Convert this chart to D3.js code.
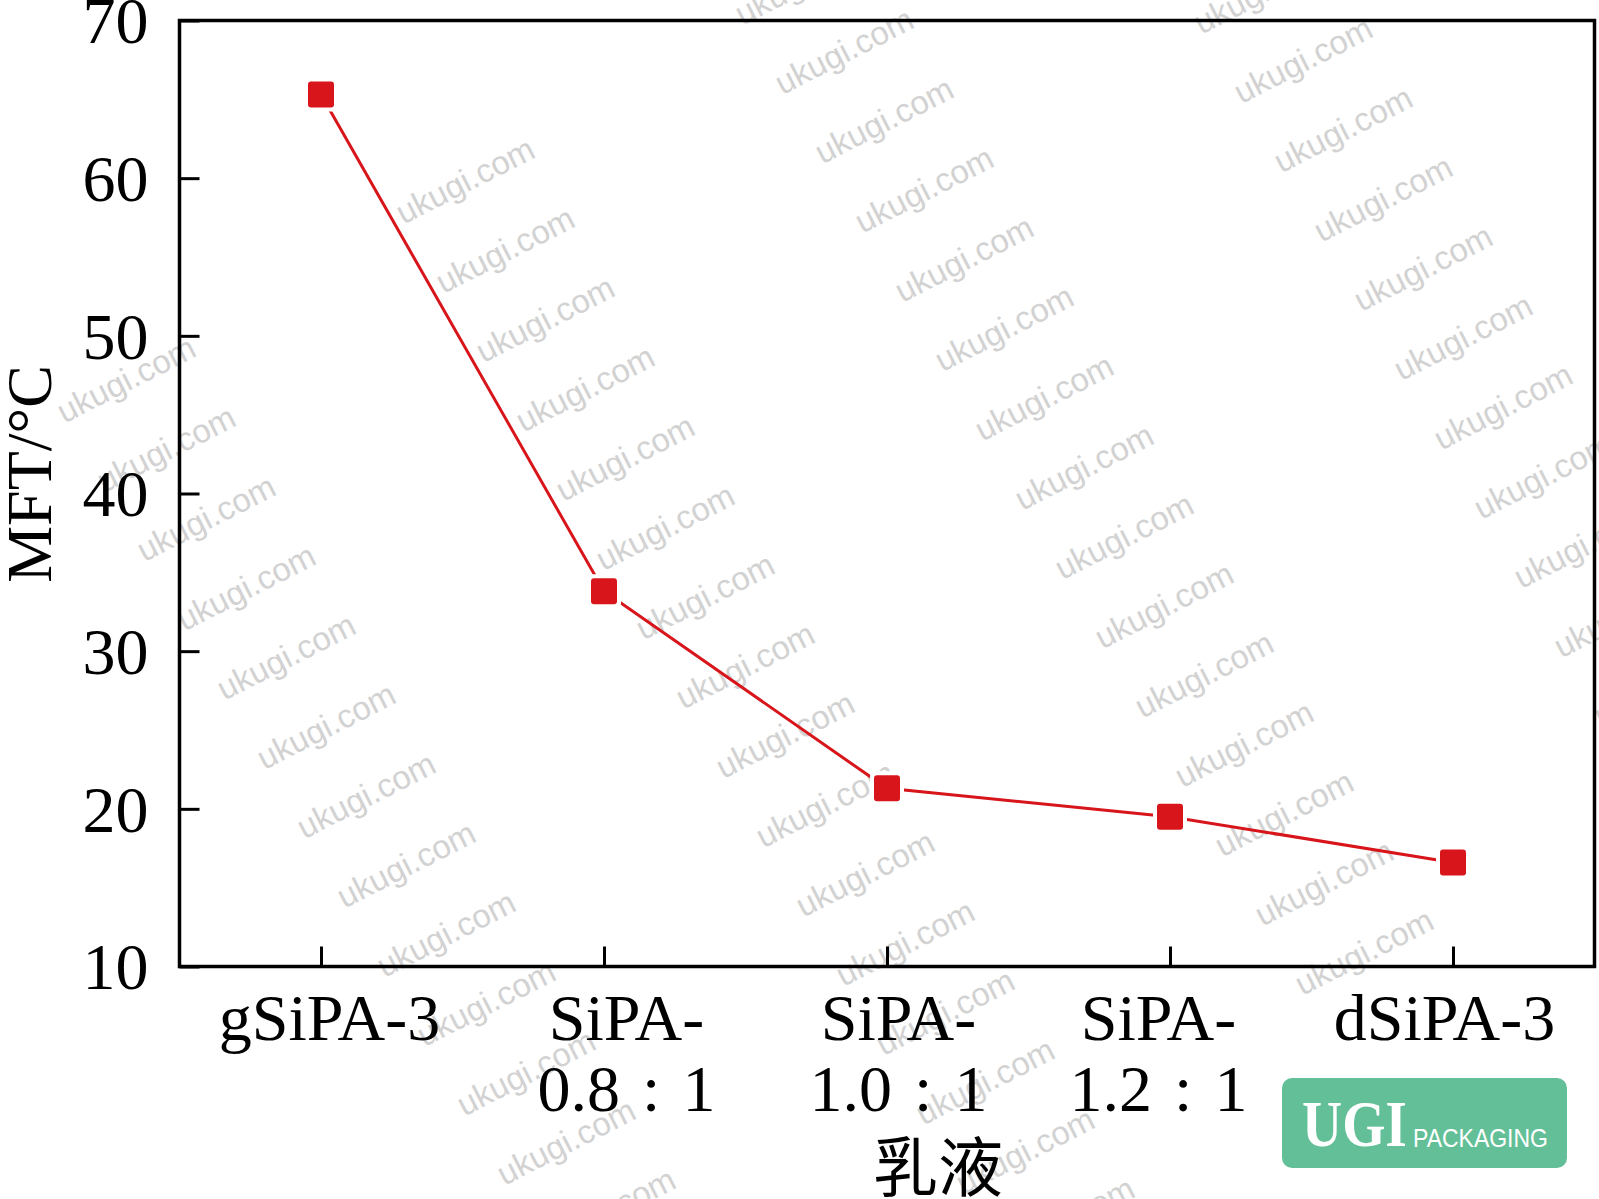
<!DOCTYPE html>
<html>
<head>
<meta charset="utf-8">
<script src="https://cdn.jsdelivr.net/npm/d3@7"></script>
<style>
body { margin: 0; background: #fff; }
</style>
</head>
<body>
<div id="chart"></div>
<script>
// data
var categories = ["gSiPA-3", "SiPA-0.8:1", "SiPA-1.0:1", "SiPA-1.2:1", "dSiPA-3"];
var tickLines = [["gSiPA-3"], ["SiPA-", "0.8\u2004:\u20041"], ["SiPA-", "1.0\u2004:\u20041"], ["SiPA-", "1.2\u2004:\u20041"], ["dSiPA-3"]];
var mft = [65.3, 33.8, 21.3, 19.5, 16.6];
var yTicks = [10, 20, 30, 40, 50, 60, 70];

var data = [];
categories.forEach(function (c, i) {
    data.push({ cat: c, value: mft[i] });
});

var margin = { top: 20.5, right: 4.5, bottom: 232.5, left: 179.5 };
var width = 1599 - margin.left - margin.right;
var height = 1199 - margin.top - margin.bottom;
var red = "#d7151b";
var serif = "'Liberation Serif', 'Times New Roman', serif";
// small horizontal nudges of the tick labels, as in the original figure
var labelDx = [8, 22, 11, -12, -9];

var svg = d3.select("#chart").append("svg")
    .attr("width", 1599)
    .attr("height", 1199);

// watermark text in the background
var wm = svg.append("g");
for (var c = -2; c <= 2; c++) {
    for (var r = -3; r <= 18; r++) {
        var wx = 884 + c * 459 + r * 40;
        var wy = 120 + r * 69.3 + c * 9;
        if (wx < -80 || wx > 1680 || wy < -40 || wy > 1240) continue;
        if (wx < 440 && wy < 340) continue;
        if (wx > 1150 && wy > 990) continue;
        wm.append("text")
            .attr("transform", "translate(" + wx + "," + wy + ") rotate(-27)")
            .attr("text-anchor", "middle")
            .attr("dy", "0.35em")
            .style("font-family", "'Liberation Sans', Arial, sans-serif")
            .style("font-size", "33px")
            .attr("fill", "#d2d2d2")
            .text("ukugi.com");
    }
}

var g = svg.append("g")
    .attr("transform", "translate(" + margin.left + "," + margin.top + ")");

var x = d3.scalePoint()
    .domain(categories)
    .range([0, width])
    .padding(0.5);
var y = d3.scaleLinear()
    .domain([10, 70])
    .range([height, 0]);

// y axis, ticks pointing inward
var yAxis = g.append("g")
    .call(d3.axisLeft(y).tickValues(yTicks).tickSize(-20).tickPadding(31));
yAxis.select(".domain").remove();
yAxis.selectAll("line").attr("stroke-width", 3);
yAxis.selectAll("text")
    .style("font-family", serif)
    .style("font-size", "66px")
    .attr("fill", "#000")
    .attr("dy", "0.34em");

// x axis with two-line labels
var xAxis = g.append("g")
    .attr("transform", "translate(0," + height + ")")
    .call(d3.axisBottom(x).tickSize(-20));
xAxis.select(".domain").remove();
xAxis.selectAll("line").attr("stroke-width", 3);
xAxis.selectAll("text")
    .style("font-family", serif)
    .style("font-size", "66px")
    .attr("fill", "#000")
    .attr("dy", null)
    .attr("y", null)
    .each(function (d, i) {
        var t = d3.select(this);
        t.text(null);
        tickLines[i].forEach(function (line, j) {
            t.append("tspan")
                .attr("x", labelDx[i])
                .attr("y", 73 + j * 71)
                .text(line);
        });
    });

// frame
g.append("rect")
    .attr("width", width)
    .attr("height", height)
    .attr("fill", "none")
    .attr("stroke", "#000")
    .attr("stroke-width", 3.5);

// line
var line = d3.line()
    .x(function (d) { return x(d.cat); })
    .y(function (d) { return y(d.value); });
g.append("path")
    .datum(data)
    .attr("d", line)
    .attr("fill", "none")
    .attr("stroke", red)
    .attr("stroke-width", 3);

// markers with a small white gap
g.selectAll(".gap")
    .data(data)
    .enter().append("rect")
    .attr("x", function (d) { return x(d.cat) - 17; })
    .attr("y", function (d) { return y(d.value) - 17; })
    .attr("width", 34)
    .attr("height", 34)
    .attr("rx", 5)
    .attr("fill", "#fff");
g.selectAll(".marker")
    .data(data)
    .enter().append("rect")
    .attr("x", function (d) { return x(d.cat) - 13; })
    .attr("y", function (d) { return y(d.value) - 13; })
    .attr("width", 26)
    .attr("height", 26)
    .attr("rx", 3)
    .attr("fill", red);

// axis titles
svg.append("text")
    .attr("transform", "translate(51,474) rotate(-90)")
    .attr("text-anchor", "middle")
    .style("font-family", serif)
    .style("font-size", "64px")
    .text("MFT/°C");

svg.append("text")
    .attr("x", 938)
    .attr("y", 1191)
    .attr("text-anchor", "middle")
    .style("font-family", "'Noto Sans CJK SC', sans-serif")
    .style("font-size", "65px")
    .text("乳液");

// logo
var logo = svg.append("g");
logo.append("rect")
    .attr("x", 1282)
    .attr("y", 1078)
    .attr("width", 285)
    .attr("height", 90)
    .attr("rx", 10)
    .attr("fill", "#63bf98");
logo.append("text")
    .attr("x", 1302)
    .attr("y", 1146)
    .attr("textLength", 105)
    .attr("lengthAdjust", "spacingAndGlyphs")
    .style("font-family", serif)
    .style("font-weight", "bold")
    .style("font-size", "66px")
    .attr("fill", "#fff")
    .text("UGI");
logo.append("text")
    .attr("x", 1413)
    .attr("y", 1147)
    .attr("textLength", 135)
    .attr("lengthAdjust", "spacingAndGlyphs")
    .style("font-family", "'Liberation Sans', Arial, sans-serif")
    .style("font-size", "25px")
    .attr("fill", "#fff")
    .text("PACKAGING");
</script>
</body>
</html>
